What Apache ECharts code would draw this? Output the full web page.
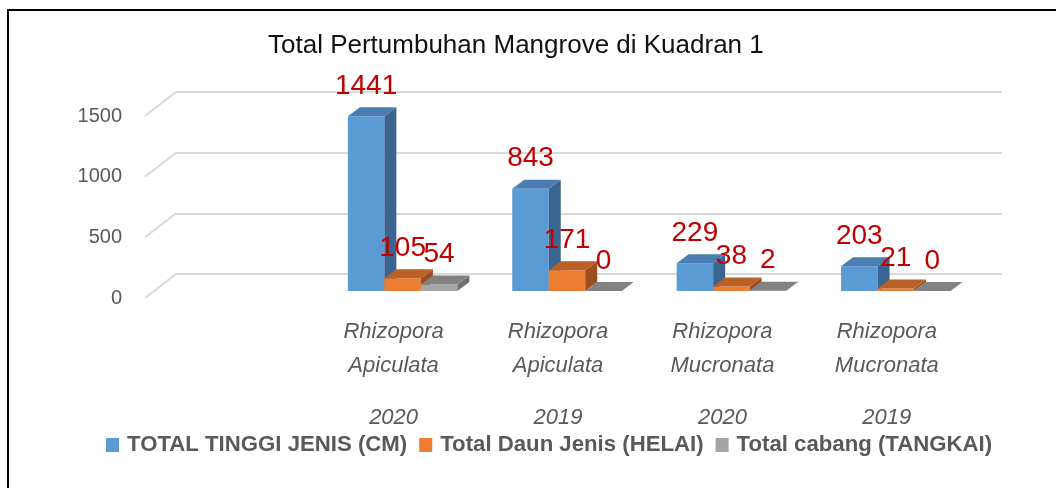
<!DOCTYPE html>
<html>
<head>
<meta charset="utf-8">
<script src="https://cdn.jsdelivr.net/npm/echarts@6/dist/echarts.min.js"></script>
<style>
  html, body { margin: 0; padding: 0; background: #fff; }
  #main { width: 1056px; height: 488px; }
</style>
</head>
<body>
<div id="main"></div>
<script>
// data (first category is empty in the original)
var catSpecies = ['', 'Rhizopora Apiculata', 'Rhizopora Apiculata', 'Rhizopora Mucronata', 'Rhizopora Mucronata'];
var catYear = ['', '2020', '2019', '2020', '2019'];
var tinggi = [null, 1441, 843, 229, 203];
var daun = [null, 105, 171, 38, 21];
var cabang = [null, 54, 0, 2, 0];
var seriesNames = ['TOTAL TINGGI JENIS (CM)', 'Total Daun Jenis (HELAI)', 'Total cabang (TANGKAI)'];
var yTicks = [0, 500, 1000, 1500];

var FONT = '"Liberation Sans", Arial, sans-serif';
// front / top / side colours of each series
var faces = [
  ['#5b9bd5', '#4a7eb1', '#3b6591'],
  ['#ed7d31', '#bb6126', '#9c4f1e'],
  ['#a5a5a5', '#828282', '#6f6f6f']
];
var DX = 12, DY = 9;   // depth of a bar

var myChart = echarts.init(document.getElementById('main'));

function toPairs(arr) {
  var out = [];
  for (var i = 0; i < arr.length; i++) {
    if (arr[i] != null) out.push([i, arr[i]]);
  }
  return out;
}

function barSeries(idx, arr) {
  var off = idx - 1;
  return {
    name: seriesNames[idx],
    type: 'custom',
    xAxisIndex: 0,
    yAxisIndex: 0,
    itemStyle: { color: faces[idx][0] },
    encode: { x: 0, y: 1 },
    data: toPairs(arr),
    renderItem: function (params, api) {
      var c = api.value(0), v = api.value(1);
      var base = api.coord([c, 0]);
      var top = api.coord([c, v]);
      var band = api.size([1, 0])[0];
      var w = band * 0.222;
      var cx = base[0] + off * w;
      var x0 = cx - w / 2, x1 = cx + w / 2;
      var yb = base[1], yt = top[1];
      return {
        type: 'group',
        children: [
          { type: 'polygon', shape: { points: [[x0, yt], [x1, yt], [x1, yb], [x0, yb]] },
            style: { fill: faces[idx][0] } },
          { type: 'polygon', shape: { points: [[x1, yt], [x1 + DX, yt - DY], [x1 + DX, yb - DY], [x1, yb]] },
            style: { fill: faces[idx][2] } },
          { type: 'polygon', shape: { points: [[x0, yt], [x1, yt], [x1 + DX, yt - DY], [x0 + DX, yt - DY]] },
            style: { fill: faces[idx][1] } },
          { type: 'text', z2: 100,
            style: { x: cx, y: yt - 30, text: String(v), fill: '#c00000',
                     font: '28px ' + FONT, align: 'center', verticalAlign: 'middle' } }
        ]
      };
    }
  };
}

var option = {
  animation: false,
  backgroundColor: '#fff',
  title: {
    text: 'Total Pertumbuhan Mangrove di Kuadran 1',
    left: 263,
    top: 28,
    textStyle: { fontFamily: FONT, fontSize: 26, fontWeight: 'normal', color: '#111' }
  },
  graphic: [
    { type: 'rect', shape: { x: 8, y: 10, width: 2000, height: 2000 },
      style: { fill: 'none', stroke: '#000', lineWidth: 2 }, silent: true }
  ],
  legend: {
    data: seriesNames,
    left: 101,
    top: 429,
    icon: 'rect',
    itemWidth: 13,
    itemHeight: 14,
    itemGap: 12,
    textStyle: { fontFamily: FONT, fontSize: 22.2, fontWeight: 'bold', color: '#595959',
                 padding: [0, 0, 0, 3] }
  },
  grid: [
    { left: 156, width: 822, top: 109, height: 182 },   // bars
    { left: 147, width: 822, top: 116, height: 182 },   // front plane (labels)
    { left: 176, width: 826, top: 92, height: 182 }     // back wall (grid lines)
  ],
  xAxis: [
    { type: 'category', gridIndex: 0, data: catYear, show: false },
    { type: 'category', gridIndex: 1, data: catYear,
      axisLine: { show: false }, axisTick: { show: false }, splitLine: { show: false },
      axisLabel: {
        margin: 17,
        interval: 0,
        formatter: function (val, i) {
          if (!catSpecies[i]) return '';
          var p = catSpecies[i].split(' ');
          return '{a|' + p[0] + '}\n{a|' + p[1] + '}\n{b|' + catYear[i] + '}';
        },
        rich: {
          a: { fontFamily: FONT, fontSize: 22, fontStyle: 'italic', color: '#595959', lineHeight: 34 },
          b: { fontFamily: FONT, fontSize: 22, fontStyle: 'italic', color: '#595959', lineHeight: 70 }
        }
      }
    },
    { type: 'value', gridIndex: 2, min: 0, max: 1, show: false }
  ],
  yAxis: [
    { type: 'value', gridIndex: 0, min: 0, max: 1500, interval: 500, show: false },
    { type: 'value', gridIndex: 1, min: 0, max: 1500, interval: 500,
      axisLine: { show: false }, axisTick: { show: false }, splitLine: { show: false },
      axisLabel: { margin: 25, fontFamily: FONT, fontSize: 20, color: '#595959',
                   formatter: function (v) { return String(v); } } },
    { type: 'value', gridIndex: 2, min: 0, max: 1500, interval: 500,
      axisLine: { show: false }, axisTick: { show: false }, axisLabel: { show: false },
      splitLine: { show: true, lineStyle: { color: '#d9d9d9', width: 2 } } }
  ],
  series: [
    {
      type: 'custom',
      xAxisIndex: 2,
      yAxisIndex: 2,
      silent: true,
      data: yTicks.map(function (t) { return [0, t]; }),
      renderItem: function (params, api) {
        var p = api.coord([0, api.value(1)]);
        return { type: 'line', shape: { x1: p[0], y1: p[1], x2: p[0] - 31, y2: p[1] + 24 },
                 style: { stroke: '#d9d9d9', lineWidth: 2 } };
      }
    },
    barSeries(0, tinggi),
    barSeries(1, daun),
    barSeries(2, cabang)
  ]
};

myChart.setOption(option);
</script>
</body>
</html>
